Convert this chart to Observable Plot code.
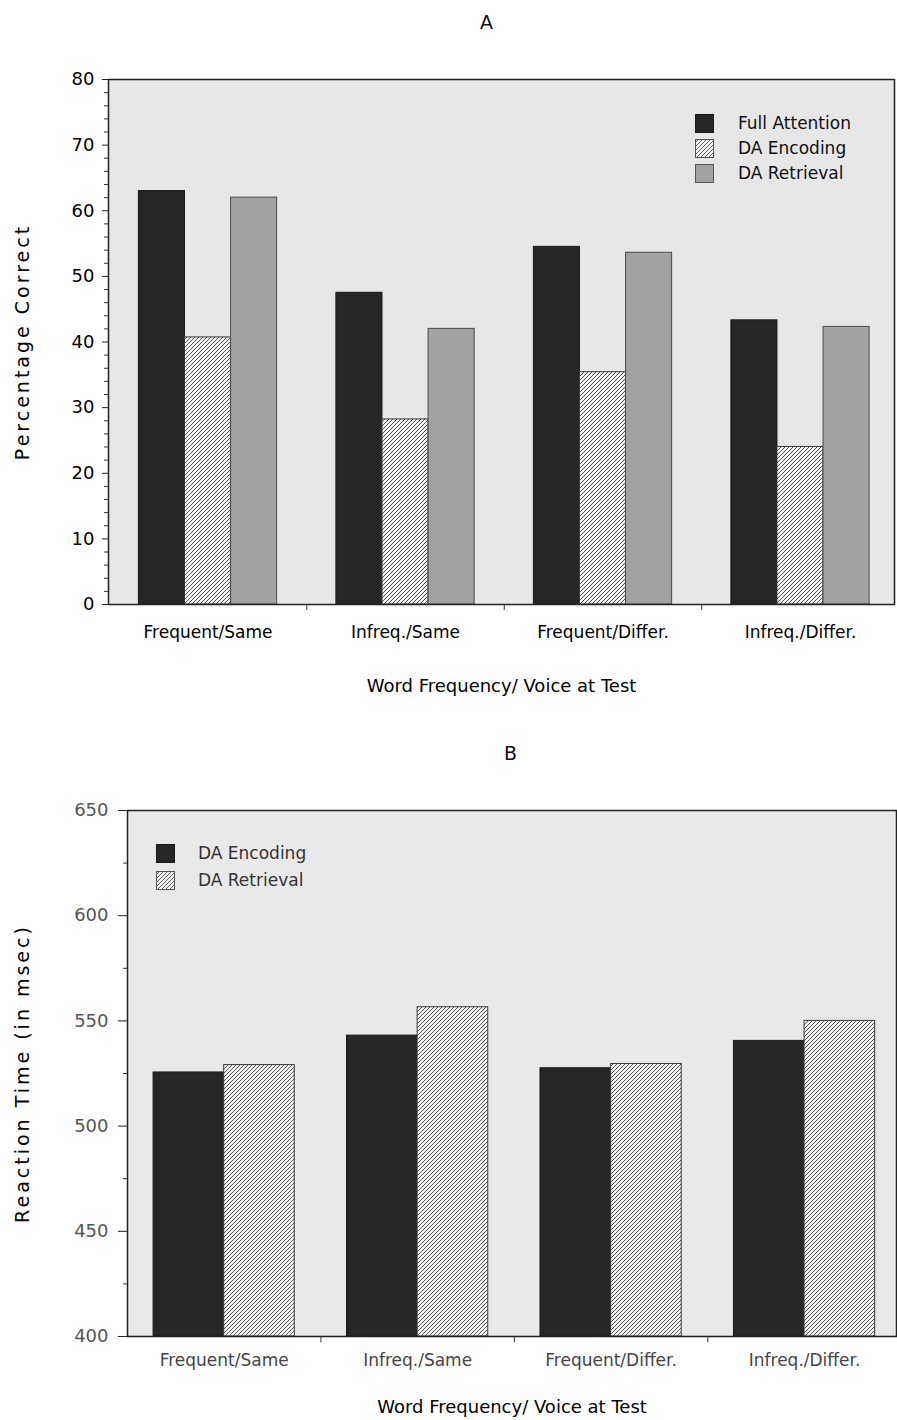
<!DOCTYPE html>
<html>
<head>
<meta charset="utf-8">
<script src="https://cdn.jsdelivr.net/npm/d3@7"></script>
<script src="https://cdn.jsdelivr.net/npm/@observablehq/plot@0.6"></script>
<style>
  body { margin: 0; background: #fff; }
  #page { position: relative; width: 897px; height: 1420px; overflow: hidden; font-family: "DejaVu Sans", sans-serif; color: #111; }
  .ptitle { position: absolute; font-size: 19px; line-height: 24px; }
  .chart { position: absolute; left: 0; }
  .legrow { position: absolute; display: flex; align-items: center; font-size: 17px; line-height: 20px; white-space: nowrap; }
  .legrow svg { flex: none; }
</style>
</head>
<body>
<div id="page"></div>
<script>
// ---------- data ----------
const categories = ["Frequent/Same", "Infreq./Same", "Frequent/Differ.", "Infreq./Differ."];

const seriesA = ["Full Attention", "DA Encoding", "DA Retrieval"];
const fullAttentionA = [63.0, 47.5, 54.5, 43.3];
const daEncodingA = [40.7, 28.2, 35.4, 24.0];
const daRetrievalA = [62.0, 42.0, 53.6, 42.3];
const ticksA = [0, 10, 20, 30, 40, 50, 60, 70, 80];

const seriesB = ["DA Encoding", "DA Retrieval"];
const daEncodingB = [525.5, 543, 527.5, 540.5];
const daRetrievalB = [529, 556.5, 529.5, 550];
const ticksB = [400, 450, 500, 550, 600, 650];

const titleA = "A";
const titleB = "B";
const yLabelA = "Percentage Correct";
const yLabelB = "Reaction Time (in msec)";
const xLabel = "Word Frequency/ Voice at Test";

// ---------- helpers ----------
const page = document.getElementById("page");
const FONT = '"DejaVu Sans", sans-serif';

function rows(series, arrays) {
  const out = [];
  series.forEach((s, j) => categories.forEach((c, i) => out.push({cat: c, series: s, value: arrays[j][i]})));
  return out;
}
function minorTicks(major, parts) {
  const out = [];
  for (let k = 0; k < major.length - 1; k++) {
    const a = major[k], b = major[k + 1];
    for (let m = 1; m < parts; m++) out.push(a + (b - a) * m / parts);
  }
  return out;
}
function bandInfo(range, inner, outer, align) {
  const s = d3.scaleBand().domain(categories).range(range).paddingInner(inner).paddingOuter(outer).align(align);
  return {bw: s.bandwidth(), step: s.step()};
}
function addHatch(svg, id, size, bg, ink, w) {
  const defs = d3.select(svg).insert("defs", ":first-child");
  const p = defs.append("pattern").attr("id", id).attr("patternUnits", "userSpaceOnUse")
    .attr("width", size).attr("height", size);
  p.append("rect").attr("width", size).attr("height", size).attr("fill", bg);
  p.append("path").attr("d", `M-1,1 L1,-1 M0,${size} L${size},0 M${size - 1},${size + 1} L${size + 1},${size - 1}`)
    .attr("stroke", ink).attr("stroke-width", w);
}
function addTitle(text, left, top) {
  const d = document.createElement("div");
  d.className = "ptitle"; d.textContent = text;
  d.style.left = left + "px"; d.style.top = top + "px";
  page.appendChild(d);
}
function swatch(kind, patId) {
  const ns = "http://www.w3.org/2000/svg";
  const s = document.createElementNS(ns, "svg");
  s.setAttribute("width", 19); s.setAttribute("height", 19);
  if (kind.hatch) {
    s.innerHTML = `<defs><pattern id="${patId}" patternUnits="userSpaceOnUse" width="4" height="4"><rect width="4" height="4" fill="#f0f0f0"/><path d="M-1,1 L1,-1 M0,4 L4,0 M3,5 L5,3" stroke="#555" stroke-width="0.9"/></pattern></defs><rect x="0.5" y="0.5" width="18" height="18" fill="url(#${patId})" stroke="#555"/>`;
  } else {
    s.innerHTML = `<rect x="0.5" y="0.5" width="18" height="18" fill="${kind.fill}" stroke="${kind.stroke}"/>`;
  }
  return s;
}
function addLegend(items, left, top, rowH, gap, color) {
  items.forEach((it, k) => {
    const r = document.createElement("div");
    r.className = "legrow";
    r.style.left = left + "px"; r.style.top = (top + k * rowH) + "px";
    r.style.color = color;
    const sw = swatch(it, "leg" + k + "_" + left);
    sw.style.marginRight = gap + "px";
    r.appendChild(sw);
    const t = document.createElement("span"); t.textContent = it.label;
    r.appendChild(t);
    page.appendChild(r);
  });
}

// ---------- Panel A ----------
const dataA = rows(seriesA, [fullAttentionA, daEncodingA, daRetrievalA]);
const W = 897;
const mA = {top: 39, bottom: 116, left: 108, right: 3};
const padA = {inner: 0.30, outer: 0.14, align: 0.55};
const bA = bandInfo([mA.left, W - mA.right], padA.inner, padA.outer, padA.align);
const styleA = [
  {fill: "#262626", stroke: "#1a1a1a"},
  {fill: "url(#hatchA)", stroke: "#3a3a3a"},
  {fill: "#a2a2a2", stroke: "#4a4a4a"}
];
const barsA = seriesA.map((s, j) => Plot.barY(dataA.filter(d => d.series === s), {
  x: "cat", y: "value",
  fill: styleA[j].fill, stroke: styleA[j].stroke, strokeWidth: 1,
  insetLeft: j * bA.bw / seriesA.length,
  insetRight: (seriesA.length - 1 - j) * bA.bw / seriesA.length
}));

const chartA = Plot.plot({
  width: W, height: 680,
  marginTop: mA.top, marginBottom: mA.bottom, marginLeft: mA.left, marginRight: mA.right,
  style: {fontFamily: FONT, fontSize: "17px", color: "#111", background: "transparent", overflow: "visible"},
  x: {domain: categories, paddingInner: padA.inner, paddingOuter: padA.outer, align: padA.align, round: false},
  y: {domain: [ticksA[0], ticksA[ticksA.length - 1]]},
  marks: [
    Plot.frame({fill: "#e7e7e7", stroke: null}),
    ...barsA,
    Plot.frame({stroke: "#222", strokeWidth: 1.5}),
    Plot.axisY({ticks: minorTicks(ticksA, 5), tickSize: 4, tickFormat: () => "", label: null, stroke: "#333"}),
    Plot.axisY({ticks: ticksA, tickSize: 6, tickPadding: 8, fontSize: 18, label: yLabelA,
      labelAnchor: "center", labelArrow: "none", labelOffset: 93, stroke: "#222", fill: "#000"}),
    Plot.axisX({tickSize: 0, tickPadding: 21, fontSize: 17, label: xLabel, labelAnchor: "center",
      labelArrow: "none", labelOffset: 87, fill: "#000"}),
    Plot.ruleX(categories.slice(1), {x: d => d, dx: -bA.step / 2, y1: ticksA[0], y2: ticksA[0] - 0.9, stroke: "#333"})
  ]
});
addHatch(chartA, "hatchA", 4, "#f3f3f3", "#444", 0.9);
chartA.classList.add("chart");
chartA.style.top = "40px";
page.appendChild(chartA);
addTitle(titleA, 480, 10);
addLegend([
  {label: seriesA[0], fill: "#262626", stroke: "#1a1a1a"},
  {label: seriesA[1], hatch: true},
  {label: seriesA[2], fill: "#a2a2a2", stroke: "#555"}
], 695, 113, 25, 24, "#111");

// ---------- Panel B ----------
const dataB = rows(seriesB, [daEncodingB, daRetrievalB]);
const mB = {top: 45, bottom: 84, left: 127, right: 1};
const padB = {inner: 0.27, outer: 0.1225, align: 0.55};
const bB = bandInfo([mB.left, W - mB.right], padB.inner, padB.outer, padB.align);
const styleB = [
  {fill: "#262626", stroke: "#1a1a1a"},
  {fill: "url(#hatchB)", stroke: "#3a3a3a"}
];
const barsB = seriesB.map((s, j) => Plot.barY(dataB.filter(d => d.series === s), {
  x: "cat", y1: ticksB[0], y2: "value",
  fill: styleB[j].fill, stroke: styleB[j].stroke, strokeWidth: 1,
  insetLeft: j * bB.bw / seriesB.length,
  insetRight: (seriesB.length - 1 - j) * bB.bw / seriesB.length
}));

const chartB = Plot.plot({
  width: W, height: 655,
  marginTop: mB.top, marginBottom: mB.bottom, marginLeft: mB.left, marginRight: mB.right,
  style: {fontFamily: FONT, fontSize: "17px", color: "#111", background: "transparent", overflow: "visible"},
  x: {domain: categories, paddingInner: padB.inner, paddingOuter: padB.outer, align: padB.align, round: false},
  y: {domain: [ticksB[0], ticksB[ticksB.length - 1]]},
  marks: [
    Plot.frame({fill: "#e9e9e9", stroke: null}),
    ...barsB,
    Plot.frame({stroke: "#222", strokeWidth: 1.5}),
    Plot.axisY({ticks: minorTicks(ticksB, 2), tickSize: 4, tickFormat: () => "", label: null, stroke: "#333"}),
    Plot.axisY({ticks: ticksB, tickSize: 9, tickPadding: 10, fontSize: 18, label: yLabelB,
      labelAnchor: "center", labelArrow: "none", labelOffset: 112, stroke: "#222", fill: "#555"}),
    Plot.axisX({tickSize: 0, tickPadding: 17, fontSize: 17, label: xLabel, labelAnchor: "center",
      labelArrow: "none", labelOffset: 76, fill: "#444"}),
    Plot.ruleX(categories.slice(1), {x: d => d, dx: -bB.step / 2, y1: ticksB[0], y2: ticksB[0] - 3, stroke: "#333"})
  ]
});
addHatch(chartB, "hatchB", 4, "#f3f3f3", "#444", 0.9);
chartB.classList.add("chart");
chartB.style.top = "765px";
page.appendChild(chartB);
addTitle(titleB, 504, 741);
addLegend([
  {label: seriesB[0], fill: "#262626", stroke: "#1a1a1a"},
  {label: seriesB[1], hatch: true}
], 156, 843, 27, 23, "#333");

// y titles: larger, letter-spaced; x titles: slightly larger
for (const [svg, lab] of [[chartA, yLabelA], [chartB, yLabelB]]) {
  d3.select(svg).selectAll("text").filter(function () { return this.textContent === lab; })
    .style("letter-spacing", "3px").style("font-size", "19px").style("fill", "#000");
  d3.select(svg).selectAll("text").filter(function () { return this.textContent === xLabel; })
    .style("font-size", "18px").style("fill", "#000");
}
</script>
</body>
</html>
